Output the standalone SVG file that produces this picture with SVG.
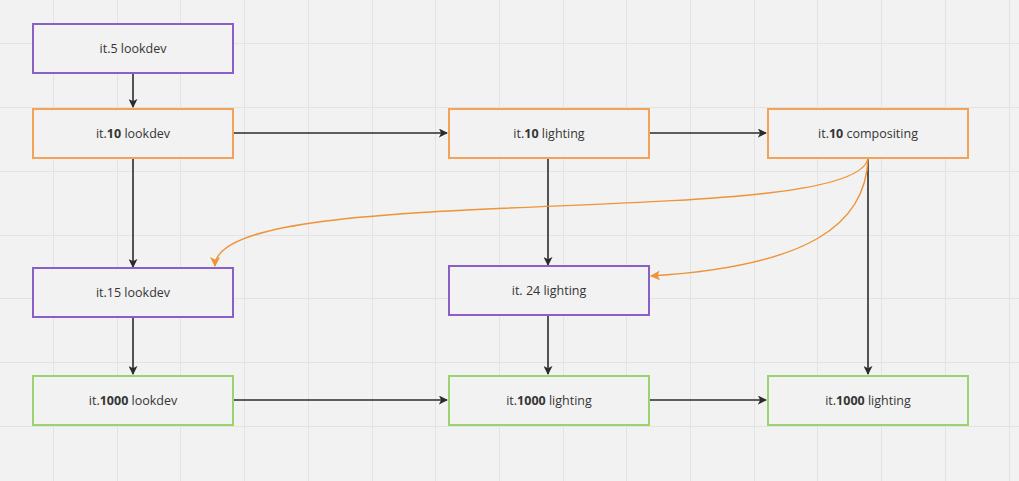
<svg xmlns="http://www.w3.org/2000/svg" width="1019" height="481" viewBox="0 0 1019 481">
<style>
.grid line{stroke:#e3e3e3;stroke-width:1}
.box{fill:#f2f2f2;stroke-width:2}
.purple{stroke:#8a5fc6}
.orange{stroke:#f3a257}
.green{stroke:#9bd46e}
text{font-family:"Open Sans","Liberation Sans",sans-serif;font-size:12.5px;fill:#353535;text-anchor:middle}
.b{font-weight:bold}
.c{fill:none;stroke:#2b2b2b;stroke-width:1.6}
.o{fill:none;stroke:#ef9337;stroke-width:1.4}
</style>
<defs>
<marker id="ad" viewBox="0 0 10 10" refX="9" refY="5" markerWidth="9" markerHeight="9" markerUnits="userSpaceOnUse" orient="auto"><path d="M0,0 L10,5 L0,10 L2.5,5 Z" fill="#2b2b2b"/></marker>
<marker id="ao" viewBox="0 0 10 10" refX="9" refY="5" markerWidth="10" markerHeight="10" markerUnits="userSpaceOnUse" orient="auto"><path d="M0,0 L10,5 L0,10 L2.5,5 Z" fill="#ef9337"/></marker>
</defs>
<rect width="1019" height="481" fill="#f2f2f2"/>
<g class="grid">
<line x1="53.5" y1="0" x2="53.5" y2="481"/><line x1="117.5" y1="0" x2="117.5" y2="481"/><line x1="180.5" y1="0" x2="180.5" y2="481"/><line x1="244.5" y1="0" x2="244.5" y2="481"/><line x1="308.5" y1="0" x2="308.5" y2="481"/><line x1="372.5" y1="0" x2="372.5" y2="481"/><line x1="435.5" y1="0" x2="435.5" y2="481"/><line x1="499.5" y1="0" x2="499.5" y2="481"/><line x1="563.5" y1="0" x2="563.5" y2="481"/><line x1="626.5" y1="0" x2="626.5" y2="481"/><line x1="690.5" y1="0" x2="690.5" y2="481"/><line x1="754.5" y1="0" x2="754.5" y2="481"/><line x1="817.5" y1="0" x2="817.5" y2="481"/><line x1="881.5" y1="0" x2="881.5" y2="481"/><line x1="945.5" y1="0" x2="945.5" y2="481"/><line x1="1009.5" y1="0" x2="1009.5" y2="481"/>
<line x1="0" y1="43.5" x2="1019" y2="43.5"/><line x1="0" y1="107.5" x2="1019" y2="107.5"/><line x1="0" y1="171.5" x2="1019" y2="171.5"/><line x1="0" y1="235.5" x2="1019" y2="235.5"/><line x1="0" y1="298.5" x2="1019" y2="298.5"/><line x1="0" y1="362.5" x2="1019" y2="362.5"/><line x1="0" y1="426.5" x2="1019" y2="426.5"/>
</g>
<g id="connectors">
<line class="c" x1="133" y1="74" x2="133" y2="107" marker-end="url(#ad)"/>
<line class="c" x1="234" y1="133" x2="447" y2="133" marker-end="url(#ad)"/>
<line class="c" x1="650" y1="133" x2="766" y2="133" marker-end="url(#ad)"/>
<line class="c" x1="133" y1="158" x2="133" y2="267" marker-end="url(#ad)"/>
<line class="c" x1="548" y1="158" x2="548" y2="265" marker-end="url(#ad)"/>
<line class="c" x1="868" y1="158" x2="868" y2="374" marker-end="url(#ad)"/>
<line class="c" x1="133" y1="318" x2="133" y2="374" marker-end="url(#ad)"/>
<line class="c" x1="548" y1="316" x2="548" y2="374" marker-end="url(#ad)"/>
<line class="c" x1="234" y1="400" x2="447" y2="400" marker-end="url(#ad)"/>
<line class="c" x1="650" y1="400" x2="766" y2="400" marker-end="url(#ad)"/>
<path class="o" d="M868,158 C858,232 215,178 215,266" marker-end="url(#ao)"/>
<path class="o" d="M868,158 C866,224 810,266 651,276" marker-end="url(#ao)"/>
</g>
<g id="n1"><rect class="box purple" x="33" y="24" width="200" height="49"/><text x="133" y="53">it.5 lookdev</text></g>
<g id="n2"><rect class="box orange" x="33" y="109" width="200" height="49"/><text x="133" y="138">it.<tspan class="b">10</tspan> lookdev</text></g>
<g id="n3"><rect class="box orange" x="449" y="109" width="200" height="49"/><text x="549" y="138">it.<tspan class="b">10</tspan> lighting</text></g>
<g id="n4"><rect class="box orange" x="768" y="109" width="200" height="49"/><text x="868" y="138">it.<tspan class="b">10</tspan> compositing</text></g>
<g id="n5"><rect class="box purple" x="33" y="268" width="200" height="49"/><text x="133" y="297">it.15 lookdev</text></g>
<g id="n6"><rect class="box purple" x="449" y="266" width="200" height="49"/><text x="549" y="295">it. 24 lighting</text></g>
<g id="n7"><rect class="box green" x="33" y="376" width="200" height="49"/><text x="133" y="405">it.<tspan class="b">1000</tspan> lookdev</text></g>
<g id="n8"><rect class="box green" x="449" y="376" width="200" height="49"/><text x="549" y="405">it.<tspan class="b">1000</tspan> lighting</text></g>
<g id="n9"><rect class="box green" x="768" y="376" width="200" height="49"/><text x="868" y="405">it.<tspan class="b">1000</tspan> lighting</text></g>
</svg>
